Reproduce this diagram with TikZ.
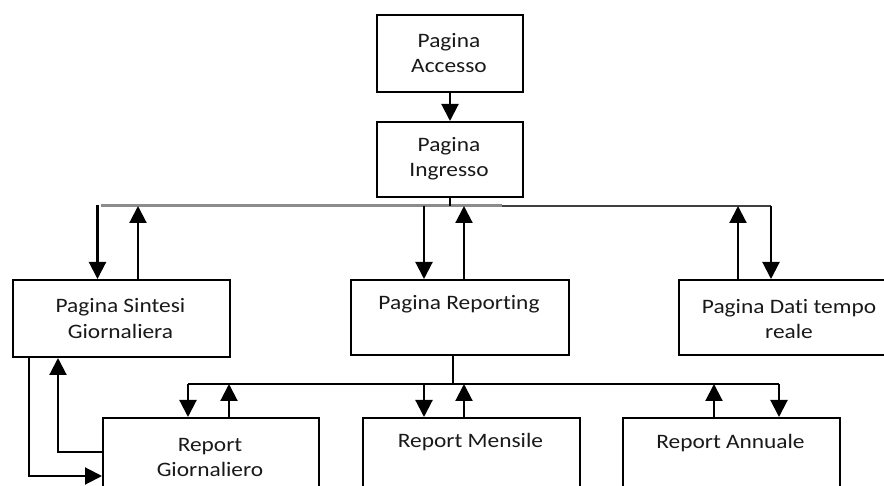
\documentclass[tikz,border=0pt]{standalone}
\usepackage{fontspec}
\setmainfont{Carlito}[FakeStretch=1.14,RawFeature={-liga;-clig;-calt;-dlig}]
\usetikzlibrary{arrows.meta}
\begin{document}
\begin{tikzpicture}[x=1pt,y=-1pt,
  box/.style={draw, line width=2pt, inner sep=0pt, anchor=north west},
  lbl/.style={anchor=base, inner sep=0pt, font=\fontsize{20.5}{25}\selectfont, text=black!90},
  ln/.style={line width=2.1pt},
  arr/.style={line width=2.1pt, -{Triangle[length=17pt,width=17pt]}},
  bus/.style={line width=3pt, gray!90}]
\fill[white] (0,0) rectangle (884,486);
\useasboundingbox (0,0) rectangle (884,486);
\clip (0,0) rectangle (884,486);

% boxes
\node[box, minimum width=146pt, minimum height=77pt] (acc) at (376,14) {};
\node[box, minimum width=146pt, minimum height=75pt] (ing) at (376,121) {};
\node[box, minimum width=217pt, minimum height=77pt] (sin) at (12,279) {};
\node[box, minimum width=218pt, minimum height=75pt] (rep) at (350,279) {};
\node[box, minimum width=222pt, minimum height=75pt] (dat) at (678,279) {};
\node[box, minimum width=216pt, minimum height=100pt] (gio) at (102,417) {};
\node[box, minimum width=217pt, minimum height=100pt] (men) at (362,417) {};
\node[box, minimum width=217pt, minimum height=100pt] (ann) at (622,417) {};

% texts
\node[lbl] (accT1) at (449,48) {Pagina};
\node[lbl] (accT2) at (449,73) {Accesso};
\node[lbl] (ingT1) at (449,152) {Pagina};
\node[lbl] (ingT2) at (449,177) {Ingresso};
\node[lbl] (sinT1) at (120.5,313) {Pagina Sintesi};
\node[lbl] (sinT2) at (120.5,339) {Giornaliera};
\node[lbl] (repT1) at (459,309.5) {Pagina Reporting};
\node[lbl] (datT1) at (789,314) {Pagina Dati tempo};
\node[lbl] (datT2) at (789,339) {reale};
\node[lbl] (gioT1) at (210,451) {Report};
\node[lbl] (gioT2) at (210,476) {Giornaliero};
\node[lbl] (menT1) at (470.5,447.5) {Report Mensile};
\node[lbl] (annT1) at (730.5,448) {Report Annuale};

% coordinates
\coordinate (busL) at (101,206);
\coordinate (busM) at (502,206);
\coordinate (busR) at (771,206);
\coordinate (lbusL) at (188,384);
\coordinate (lbusR) at (779,384);
\coordinate (sinIn) at (97.5,205);
\coordinate (sinOut) at (138,206);
\coordinate (repIn) at (424,206);
\coordinate (repOut) at (464,206);
\coordinate (datOut) at (738,206);
\coordinate (repDown) at (453,384);
\coordinate (gioOut) at (229,384);
\coordinate (menIn) at (424,384);
\coordinate (menOut) at (464,384);
\coordinate (annOut) at (714,384);
\coordinate (sg) at (29,476);
\coordinate (gs) at (58,452);

% upper bus
\draw[bus] (busL) -- (busM);
\draw[bus, gray!50!black, line width=2.4pt] (busM) -- (busR);
\draw[arr] (acc.south) -- (ing.north);
\draw[ln] (ing.south) -- (ing.south |- busL);
\draw[arr] (sinIn) -- (sinIn |- sin.north);
\draw[arr] (sinOut |- sin.north) -- (sinOut);
\draw[arr] (repIn) -- (repIn |- rep.north);
\draw[arr] (repOut |- rep.north) -- (repOut);
\draw[arr] (datOut |- dat.north) -- (datOut);
\draw[arr] (busR) -- (busR |- dat.north);

% lower bus
\draw[ln] (repDown |- rep.south) -- (repDown);
\draw[ln] (lbusL) -- (lbusR);
\draw[arr] (lbusL) -- (lbusL |- gio.north);
\draw[arr] (gioOut |- gio.north) -- (gioOut);
\draw[arr] (menIn) -- (menIn |- men.north);
\draw[arr] (menOut |- men.north) -- (menOut);
\draw[arr] (annOut |- ann.north) -- (annOut);
\draw[arr] (lbusR) -- (lbusR |- ann.north);

% sintesi <-> giornaliero
\draw[arr] (sg |- sin.south) -- (sg) -- (sg -| gio.west);
\draw[arr] (gs -| gio.west) -- (gs) -- (gs |- sin.south);
\end{tikzpicture}
\end{document}
